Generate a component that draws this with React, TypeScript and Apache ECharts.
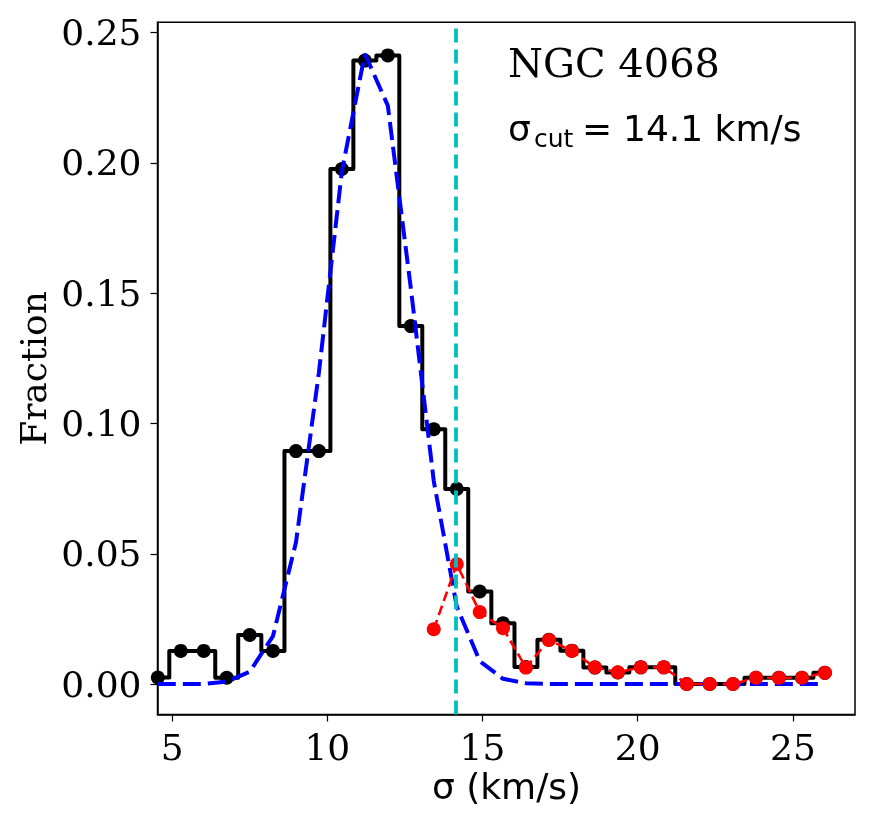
import { useEffect, useRef } from "react";
import * as echarts from "echarts";

// bin centres (km/s)
const sigma = [
  4.54, 5.28, 6.02, 6.76, 7.5, 8.25, 8.99, 9.73, 10.47, 11.21, 11.95, 12.69,
  13.43, 14.17, 14.91, 15.66, 16.4, 17.14, 17.88, 18.62, 19.36, 20.1, 20.84,
  21.58, 22.32, 23.07, 23.81, 24.55, 25.29, 26.03,
];
// histogram fraction (black)
const fractionAll = [
  0.0025, 0.0127, 0.0127, 0.0024, 0.0188, 0.0127, 0.0894, 0.0894, 0.1977,
  0.2393, 0.2413, 0.1374, 0.0978, 0.0749, 0.0355, 0.0233, 0.0065, 0.017,
  0.0128, 0.0063, 0.0044, 0.0064, 0.0064, 0.0, 0.0, 0.0, 0.0024, 0.0024,
  0.0024, 0.0043,
];
// tail fraction (red), starting at sigma[12]
const tailStart = 12;
const fractionTail = [
  0.021, 0.046, 0.0276, 0.0214, 0.0063, 0.0169, 0.0127, 0.0064, 0.0045,
  0.0064, 0.0064, 0.0, 0.0, 0.0, 0.0024, 0.0024, 0.0024, 0.0043,
];
// gaussian fit (blue dashed)
const gaussFit = [
  0.0, 0.0, 0.0, 0.0009, 0.0047, 0.0184, 0.0543, 0.1196, 0.1968, 0.2419,
  0.222, 0.152, 0.0779, 0.0298, 0.0088, 0.002, 0.0003, 0.0, 0.0, 0.0, 0.0,
  0.0, 0.0, 0.0, 0.0, 0.0, 0.0, 0.0, 0.0, 0.0,
];
const sigmaCut = 14.15;
const xTicks = [5, 10, 15, 20, 25];
const yTicks = [0, 0.05, 0.1, 0.15, 0.2, 0.25];
const galaxyName = "NGC 4068";
const cutLabel = "14.1 km/s";

export default function App() {
  const ref = useRef<HTMLDivElement>(null);
  useEffect(() => {
    const chart = echarts.init(ref.current!, null, { renderer: "svg" });
    const serif = "DejaVu Serif";
    const sans = "DejaVu Sans";
    const txt = (
      text: string,
      x: number,
      y: number,
      size: number,
      family: string,
      align = "left",
      rotation = 0
    ) => ({
      type: "text",
      x,
      y,
      rotation,
      z: 10,
      style: {
        text,
        fontSize: size,
        fontFamily: family,
        fill: "#000",
        align,
        verticalAlign: "middle",
        textAlign: align,
        textVerticalAlign: "middle",
      },
    });
    const axisCommon = {
      type: "value",
      splitLine: { show: false },
      axisLine: {
        show: true,
        onZero: false,
        lineStyle: { color: "#000", width: 1.5 },
      },
    };
    chart.setOption({
      animation: false,
      grid: {
        left: 157.5,
        top: 22.3,
        width: 697.5,
        height: 692.2,
        show: true,
        borderColor: "#000",
        borderWidth: 1.5,
        backgroundColor: "transparent",
      },
      xAxis: {
        ...axisCommon,
        min: 4.53,
        max: 27.0,
        axisTick: {
          show: true,
          inside: false,
          length: 7,
          lineStyle: { color: "#000", width: 1.2 },
          customValues: xTicks,
        },
        axisLabel: {
          customValues: xTicks,
          fontFamily: serif,
          fontSize: 36,
          color: "#000",
          margin: 15,
        },
      },
      yAxis: {
        ...axisCommon,
        min: -0.0117,
        max: 0.254,
        axisTick: {
          show: true,
          inside: false,
          length: 7,
          lineStyle: { color: "#000", width: 1.2 },
          customValues: yTicks,
        },
        axisLabel: {
          customValues: yTicks,
          fontFamily: serif,
          fontSize: 36,
          color: "#000",
          margin: 16,
          formatter: (v: number) => v.toFixed(2),
        },
      },
      series: [
        {
          type: "line",
          data: sigma.map((x, i) => [x, fractionAll[i]]),
          step: "middle",
          symbol: "circle",
          symbolSize: 14,
          itemStyle: { color: "#000" },
          lineStyle: { color: "#000", width: 4, join: "round" },
          z: 2,
        },
        {
          type: "line",
          data: sigma.map((x, i) => [x, gaussFit[i]]),
          symbol: "none",
          lineStyle: { color: "#0000ff", width: 4, type: [18, 7] },
          z: 3,
        },
        {
          type: "line",
          data: fractionTail.map((v, i) => [sigma[tailStart + i], v]),
          symbol: "circle",
          symbolSize: 14,
          itemStyle: { color: "#ff0000" },
          lineStyle: { color: "#ff0000", width: 2.6, type: [10, 5] },
          z: 4,
        },
        {
          type: "line",
          data: [],
          z: 5,
          markLine: {
            silent: true,
            symbol: "none",
            label: { show: false },
            lineStyle: { color: "#00bfbf", width: 3.8, type: [14, 7] },
            data: [{ xAxis: sigmaCut }],
          },
        },
      ],
      graphic: [
        txt(galaxyName, 508, 63, 40, serif),
        txt("σ", 508, 128, 36, sans),
        txt("cut", 534, 138, 25, sans),
        txt("=", 582, 128, 36, sans),
        txt(cutLabel, 623, 128, 36, sans),
        txt("Fraction", 33, 368.5, 36, serif, "center", Math.PI / 2),
        txt("σ (km/s)", 506.5, 786, 36, sans, "center"),
      ],
    });
    return () => chart.dispose();
  }, []);
  return (
    <div
      ref={ref}
      style={{ position: "fixed", left: 0, top: 0, width: 878, height: 826 }}
    />
  );
}
